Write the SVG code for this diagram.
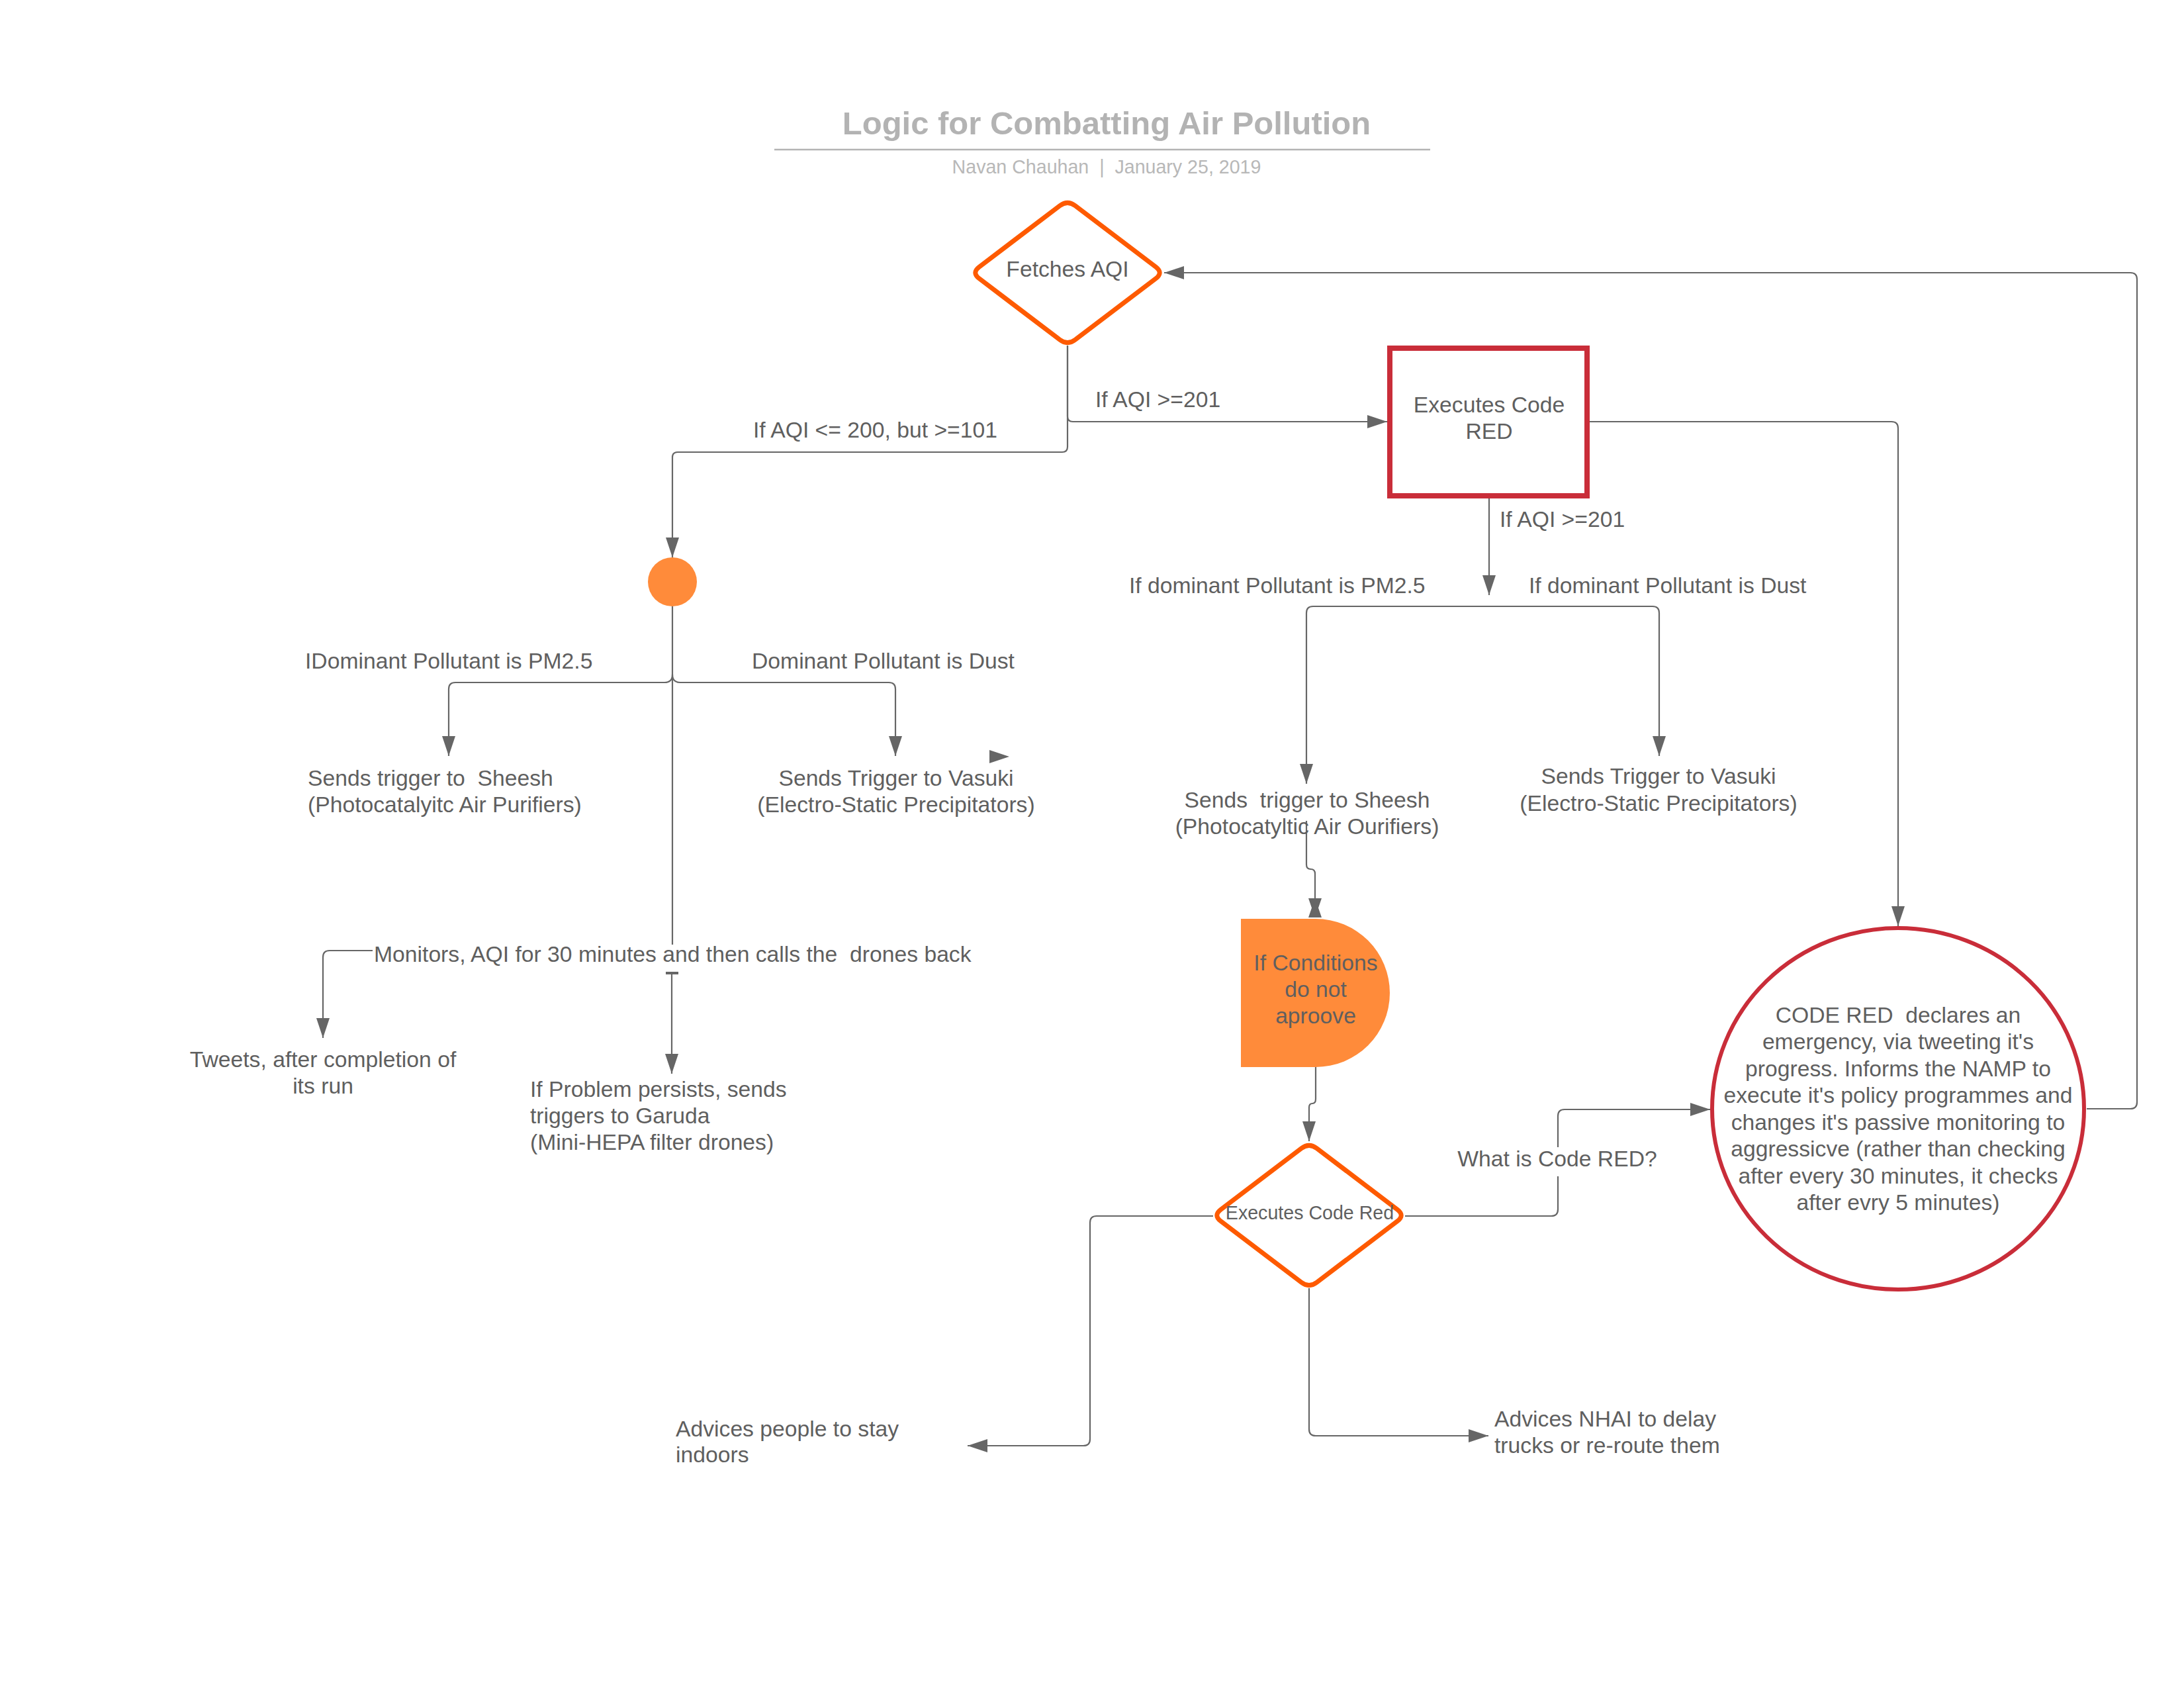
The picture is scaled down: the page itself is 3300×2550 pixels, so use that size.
<svg xmlns="http://www.w3.org/2000/svg" width="3300" height="2550" viewBox="0 0 3300 2550">
<style>
text{font-family:"Liberation Sans",Arial,sans-serif;fill:#5f5f5f;font-size:33.7px}
.c{text-anchor:middle}
.title{font-weight:bold;font-size:49px;fill:#b3b3b3}
.sub{font-size:28.6px;fill:#b8b8b8}
.ln{fill:none;stroke:#666;stroke-width:2.2}
.orange{fill:none;stroke:#fe5a00;stroke-width:7;stroke-linejoin:round}
.red{fill:#fff;stroke:#c92d39;stroke-width:8}
.fillo{fill:#ff8b3a}
.ah{fill:#666}
</style>
<defs>
<marker id="arr" markerUnits="userSpaceOnUse" viewBox="0 0 30 20" markerWidth="30" markerHeight="20" refX="30" refY="10" orient="auto"><path d="M0,0 L30,10 L0,20 Z" fill="#666"/></marker>
</defs>
<rect width="3300" height="2550" fill="#fff"/>

<g id="title">
<text class="title c" x="1672" y="203">Logic for Combatting Air Pollution</text>
<line x1="1170" y1="226" x2="2161" y2="226" stroke="#b3b3b3" stroke-width="2.5"/>
<text class="sub c" x="1672" y="262" xml:space="preserve">Navan Chauhan  |  January 25, 2019</text>
</g>

<g id="connectors">
<path class="ln" d="M1613,522 V629 Q1613,637 1621,637 H2096" marker-end="url(#arr)"/>
<path class="ln" d="M1613,522 V675 Q1613,683 1605,683 H1024 Q1016,683 1016,691 V842" marker-end="url(#arr)"/>
<path class="ln" d="M1016,916 V1427"/>
<path class="ln" d="M1016,1019 Q1016,1031 1004,1031 H688 Q678,1031 678,1041 V1142" marker-end="url(#arr)"/>
<path class="ln" d="M1016,1019 Q1016,1031 1028,1031 H1343 Q1353,1031 1353,1041 V1142" marker-end="url(#arr)"/>
<path class="ah" d="M1495,1133 L1525,1143 L1495,1153 Z"/>
<path class="ln" d="M563,1436 H498 Q488,1436 488,1446 V1568" marker-end="url(#arr)"/>
<line x1="1006" y1="1470" x2="1025" y2="1470" stroke="#666" stroke-width="4"/>
<path class="ln" d="M1015,1470 V1622" marker-end="url(#arr)"/>
<path class="ln" d="M2402,637 H2858 Q2868,637 2868,647 V1399" marker-end="url(#arr)"/>
<path class="ln" d="M2250,753 V899" marker-end="url(#arr)"/>
<path class="ln" d="M2250,916 H1984 Q1974,916 1974,926 V1184" marker-end="url(#arr)"/>
<path class="ln" d="M2250,916 H2497 Q2507,916 2507,926 V1142" marker-end="url(#arr)"/>
<path class="ln" d="M1974,1240 V1306 Q1974,1313 1980.5,1313 Q1987,1313 1987,1320 V1385"/>
<path class="ah" d="M1977,1357 L1997,1357 L1987,1386 Z"/>
<path class="ah" d="M1977,1386 L1997,1386 L1987,1357 Z"/>
<path class="ln" d="M1988,1612 V1660 Q1988,1667 1983,1667 Q1978,1667 1978,1673 V1724" marker-end="url(#arr)"/>
<path class="ln" d="M2123,1837 H2344 Q2354,1837 2354,1827 V1686 Q2354,1676 2364,1676 H2584" marker-end="url(#arr)"/>
<path class="ln" d="M1833,1837 H1657 Q1647,1837 1647,1847 V2174 Q1647,2184 1637,2184 H1462" marker-end="url(#arr)"/>
<path class="ln" d="M1978,1946 V2159 Q1978,2169 1988,2169 H2249" marker-end="url(#arr)"/>
<path class="ln" d="M3153,1675 H3219 Q3229,1675 3229,1665 V422 Q3229,412 3219,412 H1759" marker-end="url(#arr)"/>
<text x="1655" y="615">If AQI &gt;=201</text>
<text x="1138" y="661">If AQI &lt;= 200, but &gt;=101</text>
<text x="461" y="1010">IDominant Pollutant is PM2.5</text>
<text x="1136" y="1010">Dominant Pollutant is Dust</text>
<text x="2266" y="796">If AQI &gt;=201</text>
<text x="1706" y="896">If dominant Pollutant is PM2.5</text>
<text x="2310" y="896">If dominant Pollutant is Dust</text>
<rect x="2194" y="1733" width="318" height="44" fill="#fff"/>
<text class="c" x="2353" y="1762">What is Code RED?</text>
</g>

<g id="fetches-aqi">
<path class="orange" d="M1624.6,310.8 L1746.4,403.2 Q1758,412 1746.4,420.8 L1624.6,513.2 Q1613,522 1601.4,513.2 L1479.6,420.8 Q1468,412 1479.6,403.2 L1601.4,310.8 Q1613,302 1624.6,310.8 Z" fill="#fff"/>
<text class="c" x="1613" y="418">Fetches AQI</text>
</g>

<g id="code-red-box">
<rect class="red" x="2100" y="526" width="298" height="223"/>
<text class="c" x="2250" y="623">Executes Code</text>
<text class="c" x="2250" y="663">RED</text>
</g>

<g id="junction">
<circle class="fillo" cx="1016" cy="879" r="37"/>
</g>

<g id="sheesh-1">
<text x="465" y="1187" xml:space="preserve">Sends trigger to  Sheesh</text>
<text x="465" y="1227">(Photocatalyitc Air Purifiers)</text>
</g>

<g id="vasuki-1">
<text class="c" x="1354" y="1187">Sends Trigger to Vasuki</text>
<text class="c" x="1354" y="1227">(Electro-Static Precipitators)</text>
</g>

<g id="monitors">
<text x="565" y="1453" xml:space="preserve">Monitors, AQI for 30 minutes and then calls the  drones back</text>
</g>

<g id="tweets">
<text class="c" x="488" y="1612">Tweets, after completion of</text>
<text class="c" x="488" y="1652">its run</text>
</g>

<g id="garuda">
<text x="801" y="1657">If Problem persists, sends</text>
<text x="801" y="1697">triggers to Garuda</text>
<text x="801" y="1737">(Mini-HEPA filter drones)</text>
</g>

<g id="sheesh-2">
<text class="c" x="1975" y="1220" xml:space="preserve">Sends  trigger to Sheesh</text>
<text class="c" x="1975" y="1260">(Photocatyltic Air Ourifiers)</text>
</g>

<g id="vasuki-2">
<text class="c" x="2506" y="1184">Sends Trigger to Vasuki</text>
<text class="c" x="2506" y="1225">(Electro-Static Precipitators)</text>
</g>

<g id="conditions">
<path class="fillo" d="M1875,1388 H1988 A112,112 0 0 1 1988,1612 H1875 Z"/>
<text class="c" x="1988" y="1466">If Conditions</text>
<text class="c" x="1988" y="1506">do not</text>
<text class="c" x="1988" y="1546">aproove</text>
</g>

<g id="executes-code-red">
<path class="orange" d="M1989.6,1734.8 L2111.4,1827.2 Q2123,1836 2111.4,1844.8 L1989.6,1937.2 Q1978,1946 1966.4,1937.2 L1844.6,1844.8 Q1833,1836 1844.6,1827.2 L1966.4,1734.8 Q1978,1726 1989.6,1734.8 Z" fill="#fff"/>
<text class="c" x="1979" y="1842" style="font-size:28.6px">Executes Code Red</text>
</g>

<g id="code-red-circle">
<ellipse class="red" cx="2868" cy="1675" rx="281" ry="273" style="stroke-width:6"/>
<text class="c" x="2868" y="1545" xml:space="preserve">CODE RED  declares an</text>
<text class="c" x="2868" y="1585">emergency, via tweeting it's</text>
<text class="c" x="2868" y="1626">progress. Informs the NAMP to</text>
<text class="c" x="2868" y="1666">execute it's policy programmes and</text>
<text class="c" x="2868" y="1707">changes it's passive monitoring to</text>
<text class="c" x="2868" y="1747">aggressicve (rather than checking</text>
<text class="c" x="2868" y="1788">after every 30 minutes, it checks</text>
<text class="c" x="2868" y="1828">after evry 5 minutes)</text>
</g>

<g id="stay-indoors">
<text x="1021" y="2170">Advices people to stay</text>
<text x="1021" y="2209">indoors</text>
</g>

<g id="nhai">
<text x="2258" y="2155">Advices NHAI to delay</text>
<text x="2258" y="2195">trucks or re-route them</text>
</g>
</svg>
